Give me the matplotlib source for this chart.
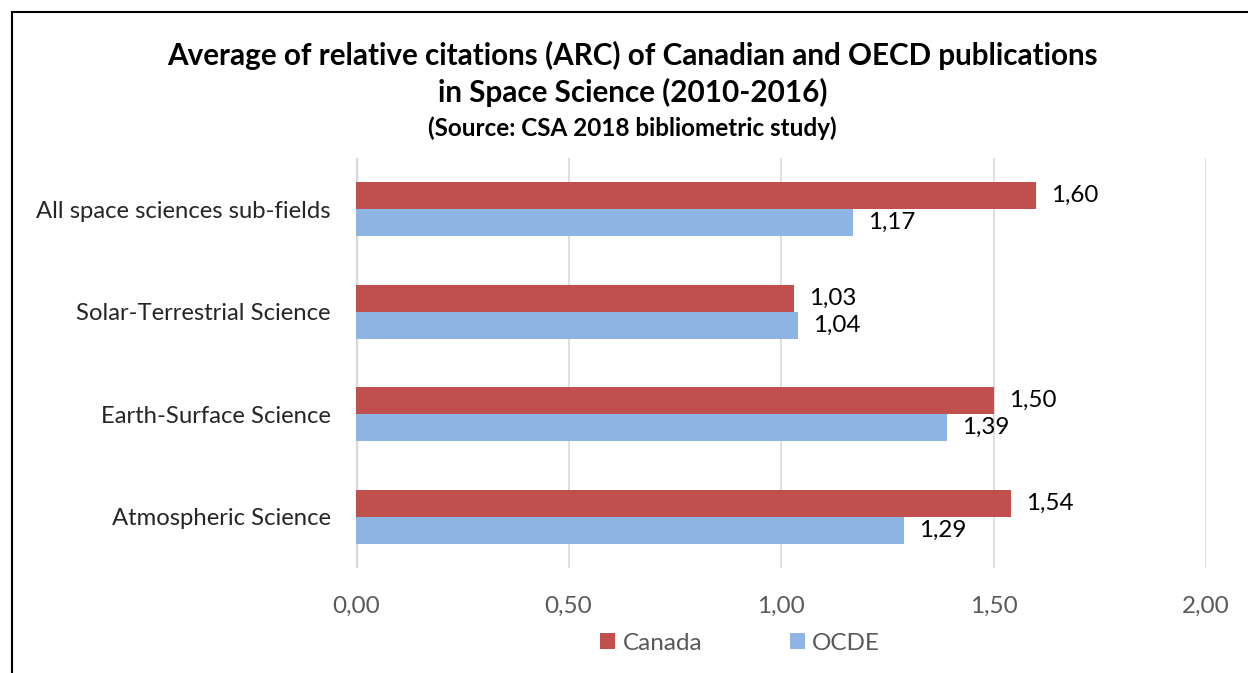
import numpy as np
import matplotlib.pyplot as plt

plt.rcParams['font.family'] = ['Lato', 'DejaVu Sans']

# categories listed bottom to top
categories = ['Atmospheric Science', 'Earth-Surface Science',
              'Solar-Terrestrial Science', 'All space sciences sub-fields']
canada = [1.54, 1.50, 1.03, 1.60]
ocde = [1.29, 1.39, 1.04, 1.17]
xticks = [0.0, 0.5, 1.0, 1.5, 2.0]

red = '#C0504D'
blue = '#8EB4E3'

fig = plt.figure(figsize=(12.48, 6.73), dpi=100)
ax = fig.add_axes([356 / 1248, 1 - 568 / 673, 850 / 1248, 410 / 673])

y = np.arange(len(categories))
h = 0.262
ax.barh(y + h / 2, canada, height=h, color=red, label='Canada', zorder=3)
ax.barh(y - h / 2, ocde, height=h, color=blue, label='OCDE', zorder=3)

def fmt(v):
    return f'{v:.2f}'.replace('.', ',')

for yi, c, o in zip(y, canada, ocde):
    ax.annotate(fmt(c), (c, yi + h / 2), xytext=(11, 0), textcoords='offset points',
                va='center', ha='left', fontsize=17.4, color='black')
    ax.annotate(fmt(o), (o, yi - h / 2), xytext=(11, 0), textcoords='offset points',
                va='center', ha='left', fontsize=17.4, color='black')

ax.set_xlim(0, 2)
ax.set_ylim(-0.5, 3.5)
ax.set_xticks(xticks)
ax.set_xticklabels([fmt(t) for t in xticks], fontsize=17.5, color='#595959')
ax.set_yticks(y)
ax.set_yticklabels(categories, fontsize=17.2, color='#262626')
ax.tick_params(axis='both', length=0)
ax.tick_params(axis='x', pad=20)
ax.tick_params(axis='y', pad=18)
ax.grid(axis='x', color='#D9D9D9', linewidth=1.2, zorder=0)
for s in ax.spines.values():
    s.set_visible(False)
ax.axvline(0, color='#D9D9D9', linewidth=2.5, zorder=1)

fig.text(0.507, 1 - 55 / 673, 'Average of relative citations (ARC) of Canadian and OECD publications',
         ha='center', va='center', fontsize=21.3, fontweight='bold')
fig.text(0.507, 1 - 92 / 673, 'in Space Science (2010-2016)',
         ha='center', va='center', fontsize=21.3, fontweight='bold')
fig.text(0.507, 1 - 128 / 673, '(Source: CSA 2018 bibliometric study)',
         ha='center', va='center', fontsize=17.5, fontweight='bold')

leg = fig.legend(loc='center', bbox_to_anchor=(0.593, 1 - 643 / 673), ncol=2, frameon=False,
                 fontsize=17.5, handlelength=0.62, handleheight=0.62, columnspacing=3.6,
                 handletextpad=0.3)
for t in leg.get_texts():
    t.set_color('#595959')

# outer chart border (left and top edges)
fig.add_artist(plt.Line2D([11.5 / 1248, 11.5 / 1248], [0, 1 - 12 / 673],
                          transform=fig.transFigure, color='black', linewidth=1.5))
fig.add_artist(plt.Line2D([11.5 / 1248, 1], [1 - 12 / 673, 1 - 12 / 673],
                          transform=fig.transFigure, color='black', linewidth=1.5))

fig.savefig('out.png', dpi=100)
